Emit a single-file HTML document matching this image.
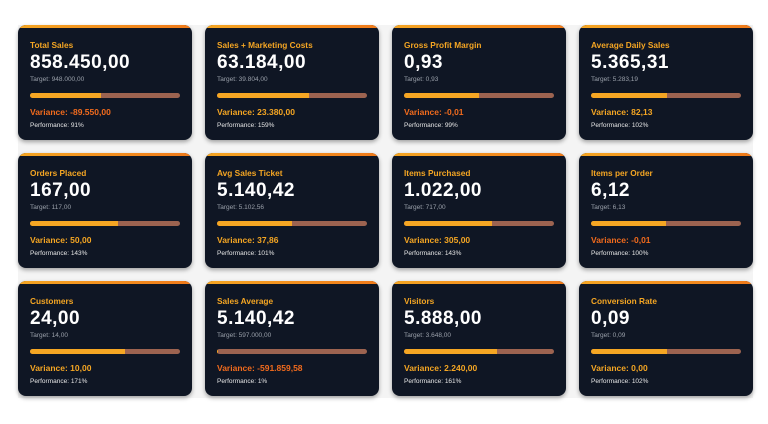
<!DOCTYPE html>
<html><head><meta charset="utf-8">
<style>
html,body{margin:0;padding:0;background:#fff;width:768px;height:424px;overflow:hidden;font-family:"Liberation Sans",sans-serif}
#wrap{position:absolute;left:18px;top:25px;width:735px;height:373px;background:#f4f4f4}
.card{position:absolute;width:174px;height:115px;background:#0f1624;border-radius:8px;box-shadow:0 2px 4px rgba(0,0,0,0.35);overflow:hidden}
.card .top{position:absolute;left:0;top:0;width:100%;height:3px;background:linear-gradient(90deg,#f5a623,#f07a1a)}
.title{position:absolute;left:12px;top:15px;font-size:8.3px;font-weight:bold;color:#f5a623;white-space:nowrap}
.val{position:absolute;left:12px;top:27px;font-size:19px;font-weight:bold;color:#fff;white-space:nowrap;letter-spacing:0.5px}
.tgt{position:absolute;left:12px;top:51px;font-size:6.5px;color:#9aa0aa;white-space:nowrap}
.bar{position:absolute;left:12px;top:68px;width:150px;height:5px;border-radius:3px;background:#9c6350;overflow:hidden}
.fill{position:absolute;left:0;top:0;height:5px;background:#f5a623}
.var{position:absolute;left:12px;top:82px;font-size:8.5px;font-weight:bold;white-space:nowrap}
.perf{position:absolute;left:12px;top:97px;font-size:6.5px;color:#e6e6e6;white-space:nowrap}
</style></head><body>
<div id="wrap"></div>
<script>
const titles=["Total Sales","Sales + Marketing Costs","Gross Profit Margin","Average Daily Sales","Orders Placed","Avg Sales Ticket","Items Purchased","Items per Order","Customers","Sales Average","Visitors","Conversion Rate"];
const values=["858.450,00","63.184,00","0,93","5.365,31","167,00","5.140,42","1.022,00","6,12","24,00","5.140,42","5.888,00","0,09"];
const targets=["948.000,00","39.804,00","0,93","5.283,19","117,00","5.102,56","717,00","6,13","14,00","597.000,00","3.648,00","0,09"];
const variances=["-89.550,00","23.380,00","-0,01","82,13","50,00","37,86","305,00","-0,01","10,00","-591.859,58","2.240,00","0,00"];
const perfs=[91,159,99,102,143,101,143,100,171,1,161,102];
const wrap=document.getElementById('wrap');
titles.forEach((t,i)=>{
  const c=document.createElement('div');
  c.className='card';
  
  
  c.style.left=(i%4)*187+'px';
  c.style.top=Math.floor(i/4)*128+'px';
  const neg=variances[i].startsWith('-');
  const frac=perfs[i]/(perfs[i]+100)*100;
  c.innerHTML='<div class="top"></div>'+
   '<div class="title">'+t+'</div>'+
   '<div class="val">'+values[i]+'</div>'+
   '<div class="tgt">Target: '+targets[i]+'</div>'+
   '<div class="bar"><div class="fill" style="width:'+frac+'%"></div></div>'+
   '<div class="var" style="color:'+(neg?'#f26b1d':'#f5a623')+'">Variance: '+variances[i]+'</div>'+
   '<div class="perf">Performance: '+perfs[i]+'%</div>';
  const parts=[['.title','kpi-title'],['.val','kpi-value'],['.tgt','kpi-target'],['.bar','progress-bar'],['.fill','progress-fill'],['.var','kpi-variance'],['.perf','kpi-performance'],['.top','card-accent']];
  parts.forEach(p=>{const e=c.querySelector(p[0]);
    
    
  });
  wrap.appendChild(c);
});
</script>
</body></html>
